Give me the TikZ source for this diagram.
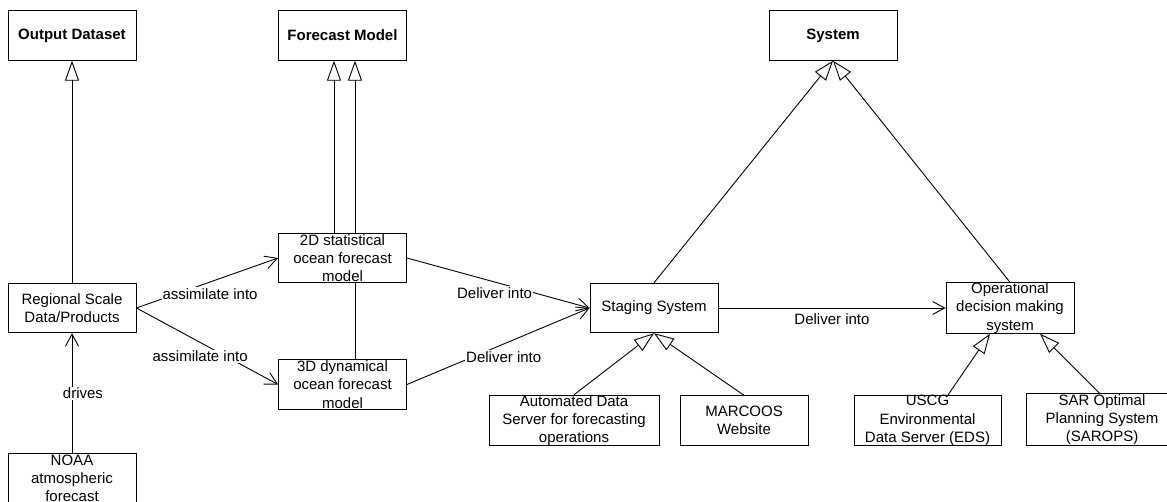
\documentclass[tikz,border=0pt]{standalone}
\usepackage{fontspec}
\setmainfont{Liberation Sans}
\usetikzlibrary{arrows.meta,backgrounds}
\begin{document}
\begin{tikzpicture}[x=1pt,y=-1pt,
  box/.style={draw=black, line width=0.9pt, fill=white, inner sep=0pt, align=center,
    minimum width=128pt, minimum height=49.5pt, font=\fontsize{15}{18.3}\selectfont},
  openbox/.style={box, draw=none},
  titlebox/.style={box, font=\fontsize{15}{18.3}\selectfont\bfseries},
  frame/.style={draw=black, line width=0.9pt},
  gen/.style={draw=black, line width=0.9pt, -{Triangle[open, length=20pt, width=14pt]}},
  assoc/.style={draw=black, line width=0.9pt, -{Straight Barb[length=12pt, width=13pt]}},
  lbl/.style={font=\fontsize{15}{18}\selectfont, fill=white, inner sep=1pt},
  lblplain/.style={font=\fontsize{15}{18}\selectfont, inner sep=1pt}
]
\useasboundingbox (0,0) rectangle (1167,502);
\clip (0,0) rectangle (1167,502);

\node[titlebox] (od)  at (72,35.5)    {Output Dataset};
\node[titlebox] (fm)  at (342.5,35.5) {Forecast Model};
\node[titlebox] (sys) at (833,35.5)   {System};

\node[box] (reg)  at (72,308)      {Regional Scale\\Data/Products};
\node[box] (d2)   at (342.5,258)   {2D statistical\\ocean forecast\\model};
\node[box] (d3)   at (342.5,384.5) {3D dynamical\\ocean forecast\\model};
\node[box] (noaa) at (72,478.5)    {NOAA\\atmospheric\\forecast};
\node[box] (stg)  at (654,308)     {Staging System};
\node[box] (op)   at (1010,308)    {Operational\\decision making\\system};
\node[box, minimum width=170pt] (aut) at (574,420.5) {Automated Data\\Server for forecasting\\operations};
\node[box] (mar)  at (744,420.5)   {MARCOOS\\Website};
\node[box, minimum width=147pt] (uscg) at (927.5,420.5) {USCG\\Environmental\\Data Server (EDS)};
\node[openbox, minimum width=150pt, minimum height=49pt] (sar)  at (1102,419.5)  {SAR Optimal\\Planning System\\(SAROPS)};
\draw[frame] ([xshift=30pt]sar.north east) -- (sar.north west) -- (sar.south west) -- ([xshift=30pt]sar.south east);

\begin{pgfonlayer}{background}
\fill[white] (0,0) rectangle (1167,502);
\draw[gen] (reg) -- (od);
\draw[assoc] (noaa) -- node[lbl, pos=0.5, xshift=11pt] {drives} (reg);
\draw[assoc] (reg.east) -- node[lbl, pos=0.52, yshift=-12pt] {assimilate into} (d2.west);
\draw[assoc] (reg.east) -- node[lbl, pos=0.45, yshift=-14pt] {assimilate into} (d3.west);
\draw[assoc] (d2.east) -- node[lbl, pos=0.48, yshift=-11pt] {Deliver into} (stg.west);
\draw[assoc] (d3.east) -- node[lbl, pos=0.53, yshift=-13pt] {Deliver into} (stg.west);
\draw[assoc] (stg) -- node[lblplain, pos=0.5, yshift=-11pt] {Deliver into} (op);
\draw[gen] ([xshift=-8.5pt]d2.north) -- ([xshift=-8.5pt]fm.south);
\draw[gen] ([xshift=12.5pt]d3.north) -- ([xshift=12.5pt]fm.south);
\draw[gen] (stg.north) -- (sys.south);
\draw[gen] (op.north) -- (sys.south);
\draw[gen] (aut.north) -- (stg.south);
\draw[gen] (mar.north) -- (stg.south);
\draw[gen] ([xshift=20.5pt]uscg.north) -- ([xshift=-20pt]op.south);
\draw[gen] ([xshift=-2pt]sar.north) -- ([xshift=30pt]op.south);
\end{pgfonlayer}
\end{tikzpicture}
\end{document}
